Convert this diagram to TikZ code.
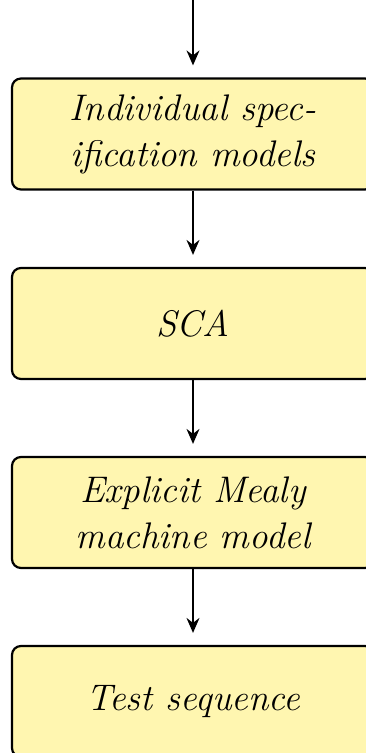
\documentclass[tikz,border=0pt]{standalone}
\usepackage{fontspec}
\usetikzlibrary{arrows.meta}
\definecolor{boxfill}{RGB}{255,246,176}
\tikzset{
  stagebox/.style={draw=black, line width=2.2pt, fill=boxfill, rounded corners=9pt,
    minimum width=362pt, minimum height=111pt, align=center, inner sep=0pt,
    font=\fontsize{37}{46}\selectfont\itshape},
  flowarrow/.style={line width=1.7pt, -{Stealth[length=15pt, width=13pt, inset=5pt]}}
}
\begin{document}
\begin{tikzpicture}[x=1pt, y=-1pt]
\useasboundingbox (0,0) rectangle (366,753);
\begin{scope}
\clip (0,0) rectangle (366,753);
\coordinate (start) at (193,-5);
\node[stagebox] (ism) at (193,134) {Individual spec-\\ification models};
\node[stagebox] (sca) at (193,323.5) {SCA};
\node[stagebox] (mealy) at (193,512.5) {Explicit Mealy\\machine model};
\node[stagebox] (test) at (193,701.5) {Test sequence};
\draw[flowarrow] (start) -- ([yshift=12pt]ism.north);
\draw[flowarrow] (ism.south) -- ([yshift=12pt]sca.north);
\draw[flowarrow] (sca.south) -- ([yshift=12pt]mealy.north);
\draw[flowarrow] (mealy.south) -- ([yshift=12pt]test.north);
\end{scope}
\end{tikzpicture}
\end{document}
